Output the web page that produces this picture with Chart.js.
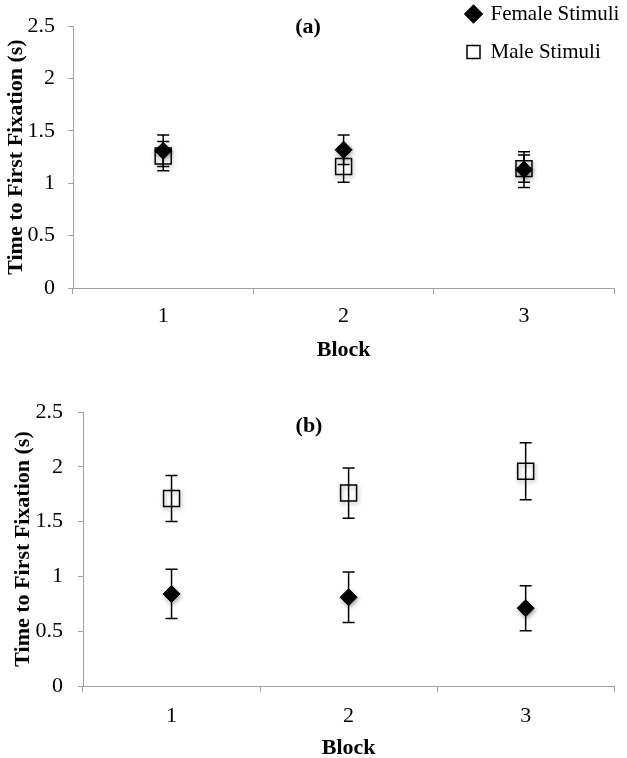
<!DOCTYPE html>
<html><head><meta charset="utf-8">
<script src="https://cdn.jsdelivr.net/npm/chart.js@4/dist/chart.umd.min.js"></script>
<style>
html,body{margin:0;padding:0;background:#fff;overflow:hidden;width:627px;height:758px;}
#ca{position:absolute;left:0;top:0;}
#cb{position:absolute;left:0;top:375px;}
</style></head><body>
<canvas id="ca" width="627" height="375"></canvas>
<canvas id="cb" width="627" height="390"></canvas>
<script>
// ---- data ----
const blocks = ['1', '2', '3'];
const yTicks = [0, 0.5, 1, 1.5, 2, 2.5];
const seriesNames = ['Female Stimuli', 'Male Stimuli'];
const panelNames = ['(a)', '(b)'];
const yTitle = 'Time to First Fixation (s)';
const xTitle = 'Block';

const femaleA    = [1.31, 1.32, 1.13];
const femaleAErr = [0.15, 0.14, 0.17];
const maleA      = [1.26, 1.16, 1.14];
const maleAErr   = [0.14, 0.15, 0.13];

const femaleB    = [0.84, 0.81, 0.71];
const femaleBErr = [0.225, 0.23, 0.205];
const maleB      = [1.71, 1.76, 1.96];
const maleBErr   = [0.21, 0.23, 0.26];

// ---- styling helpers ----
const FONT = "'Liberation Serif','Times New Roman',Times,serif";
const AXIS_GRAY = '#a0a0a0';

const errorBarPlugin = {
  id: 'errorBars',
  beforeDatasetsDraw(chart) {
    const ctx = chart.ctx;
    ctx.save();
    ctx.shadowColor = 'rgba(0,0,0,0.35)';
    ctx.shadowBlur = 4;
    ctx.shadowOffsetX = 1;
    ctx.shadowOffsetY = 2;
  },
  afterDatasetsDraw(chart) {
    const ctx = chart.ctx;
    ctx.restore();
    const ys = chart.scales.y;
    chart.data.datasets.forEach((ds, di) => {
      const meta = chart.getDatasetMeta(di);
      (ds.errors || []).forEach((e, i) => {
        const pt = meta.data[i];
        const v = ds.data[i];
        const x = pt.x;
        const yt = ys.getPixelForValue(v + e);
        const yb = ys.getPixelForValue(v - e);
        ctx.save();
        ctx.strokeStyle = '#000';
        ctx.lineWidth = 1.5;
        ctx.beginPath();
        ctx.moveTo(x, yt); ctx.lineTo(x, yb);
        ctx.moveTo(x - 6, yt); ctx.lineTo(x + 6, yt);
        ctx.moveTo(x - 6, yb); ctx.lineTo(x + 6, yb);
        ctx.stroke();
        ctx.restore();
      });
    });
  }
};

const panelLabelPlugin = {
  id: 'panelLabel',
  afterDraw(chart, args, opts) {
    if (!opts || !opts.text) return;
    const ctx = chart.ctx;
    ctx.save();
    ctx.font = 'bold 22px ' + FONT;
    ctx.fillStyle = '#000';
    ctx.textAlign = 'center';
    ctx.textBaseline = 'middle';
    ctx.fillText(opts.text, opts.x, opts.y);
    ctx.restore();
  }
};

const legendPosPlugin = {
  id: 'legendPos',
  afterLayout(chart, args, opts) {
    const lg = chart.legend;
    if (!lg || opts.left === undefined) return;
    lg.left = opts.left;
    lg.top = opts.top;
    lg.right = opts.left + lg.width;
    lg.bottom = opts.top + 300;
  }
};

function makeDatasets(fem, femErr, mal, malErr) {
  return [
    {
      label: seriesNames[0], data: fem, errors: femErr,
      showLine: false, pointStyle: 'rectRot', pointRadius: 8.5, pointHoverRadius: 8.5,
      pointBackgroundColor: '#000', pointBorderColor: '#000', pointBorderWidth: 1,
      backgroundColor: '#000', borderColor: '#000'
    },
    {
      label: seriesNames[1], data: mal, errors: malErr,
      showLine: false, pointStyle: 'rect', pointRadius: 11.3, pointHoverRadius: 11.3,
      pointBackgroundColor: 'rgba(0,0,0,0)', pointBorderColor: '#000', pointBorderWidth: 1.5,
      backgroundColor: 'rgba(0,0,0,0)', borderColor: '#000'
    }
  ];
}

function makeConfig(p) {
  return {
    type: 'line',
    data: { labels: blocks, datasets: makeDatasets(p.fem, p.femErr, p.mal, p.malErr) },
    plugins: [errorBarPlugin, panelLabelPlugin, legendPosPlugin],
    options: {
      responsive: false,
      animation: false,
      events: [],
      layout: { padding: { left: 0, top: p.top, right: 4, bottom: 0 } },
      plugins: {
        tooltip: { enabled: false },
        legend: {
          display: p.legend,
          position: 'chartArea',
          align: 'start',
          labels: {
            usePointStyle: true, boxWidth: 13, boxHeight: 13, padding: 17,
            color: '#000', font: { family: FONT, size: 21 }
          }
        },
        legendPos: p.legend ? { left: 450, top: -13.5 } : {},
        panelLabel: { text: p.label, x: p.labelX, y: p.labelY }
      },
      scales: {
        x: {
          type: 'category',
          offset: true,
          grid: { offset: true, drawOnChartArea: false, drawTicks: true, tickLength: 6, color: AXIS_GRAY, lineWidth: 1 },
          border: { display: true, color: AXIS_GRAY, width: 1 },
          ticks: { color: '#000', font: { family: FONT, size: 22 }, padding: p.xTickPad, maxRotation: 0 },
          title: { display: true, text: xTitle, color: '#000', font: { family: FONT, size: 22, weight: 'bold' }, padding: { top: 0, bottom: p.xTitlePad } },
          afterFit(scale) { scale.height = p.xHeight; }
        },
        y: {
          min: 0, max: 2.5,
          grid: { drawOnChartArea: false, drawTicks: true, tickLength: 5, color: AXIS_GRAY, lineWidth: 1 },
          border: { display: true, color: AXIS_GRAY, width: 1 },
          afterBuildTicks(scale) { scale.ticks = yTicks.map(v => ({ value: v })); },
          ticks: { color: '#000', font: { family: FONT, size: 22 }, padding: p.yTickPad, callback: v => String(v) },
          title: { display: true, text: yTitle, color: '#000', font: { family: FONT, size: 22, weight: 'bold' }, padding: { top: p.yTitlePad, bottom: 0 } },
          afterFit(scale) { scale.width = p.yWidth; }
        }
      }
    }
  };
}

new Chart(document.getElementById('ca'), makeConfig({
  fem: femaleA, femErr: femaleAErr, mal: maleA, malErr: maleAErr,
  top: 13, yWidth: 73, xHeight: 87, xTickPad: 9, xTitlePad: 11, yTickPad: 13, yTitlePad: 3,
  legend: true, label: panelNames[0], labelX: 308, labelY: 27
}));

new Chart(document.getElementById('cb'), makeConfig({
  fem: femaleB, femErr: femaleBErr, mal: maleB, malErr: maleBErr,
  top: 37, yWidth: 83, xHeight: 79, xTickPad: 11, xTitlePad: 3, yTickPad: 15, yTitlePad: 10,
  legend: false, label: panelNames[1], labelX: 309, labelY: 51
}));
</script>
</body></html>
